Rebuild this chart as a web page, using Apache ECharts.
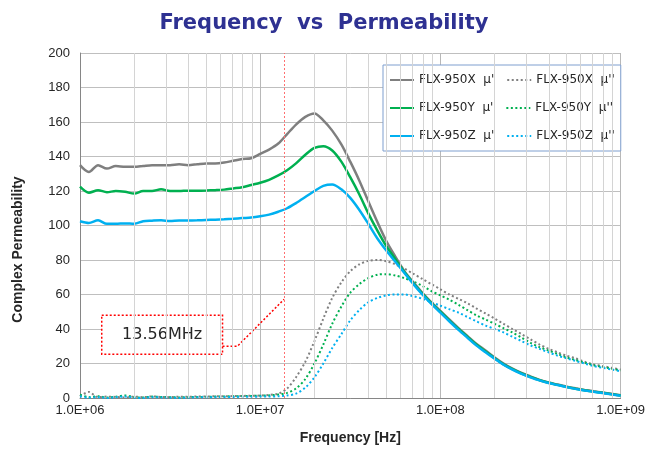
<!DOCTYPE html>
<html>
<head>
<meta charset="utf-8">
<title>Frequency vs Permeability</title>
<script src="https://cdn.jsdelivr.net/npm/echarts@6/dist/echarts.min.js"></script>
<style>
	html, body { margin: 0; padding: 0; background: #fff; }
	#main { width: 648px; height: 450px; }
</style>
</head>
<body>
<div id="main"></div>
<script>
// sampling frequencies [Hz], 20 points per decade
var freq = [
	1.00e6, 1.12e6, 1.26e6, 1.41e6, 1.58e6, 1.78e6, 2.00e6, 2.24e6, 2.51e6, 2.82e6,
	3.16e6, 3.55e6, 3.98e6, 4.47e6, 5.01e6, 5.62e6, 6.31e6, 7.08e6, 7.94e6, 8.91e6,
	1.00e7, 1.12e7, 1.26e7, 1.41e7, 1.58e7, 1.78e7, 2.00e7, 2.24e7, 2.51e7, 2.82e7,
	3.16e7, 3.55e7, 3.98e7, 4.47e7, 5.01e7, 5.62e7, 6.31e7, 7.08e7, 7.94e7, 8.91e7,
	1.00e8, 1.12e8, 1.26e8, 1.41e8, 1.58e8, 1.78e8, 2.00e8, 2.24e8, 2.51e8, 2.82e8,
	3.16e8, 3.55e8, 3.98e8, 4.47e8, 5.01e8, 5.62e8, 6.31e8, 7.08e8, 7.94e8, 8.91e8,
	1.00e9
];

// real part  mu'
var xReal = [
	135, 131, 135, 133, 134.5, 134, 134, 134.5, 135, 135,
	135, 135.5, 135, 135.5, 136, 136, 136.5, 137.5, 138.5, 139,
	141.5, 144, 147.5, 153, 158.5, 163, 165, 161, 155, 147,
	137, 126, 114, 102, 91, 82, 73.5, 67, 61, 55.5,
	50.5, 45.5, 40.5, 36, 31.5, 27.5, 23.5, 20, 17, 14.5,
	12.5, 10.5, 9, 7.8, 6.6, 5.6, 4.7, 3.9, 3.2, 2.4,
	1.6
];
var yReal = [
	122.5, 119, 120.5, 119.3, 120, 119.5, 118.5, 120, 120, 121,
	120, 120, 120.2, 120.2, 120.3, 120.5, 120.8, 121.5, 122.2, 123.5,
	124.8, 126.5, 129, 132, 136, 141, 145, 146, 143.5, 137,
	128, 118, 107, 97, 88, 80.5, 73, 66.5, 60.5, 55,
	50, 45, 40, 35.5, 31, 27, 23, 19.5, 16.7, 14.2,
	12.2, 10.3, 8.8, 7.6, 6.4, 5.4, 4.5, 3.7, 3, 2.2,
	1.4
];
var zReal = [
	102.5, 101.5, 103, 101, 101, 101.2, 101, 102.5, 102.8, 103,
	102.6, 102.9, 102.9, 103, 103.2, 103.4, 103.6, 103.9, 104.3, 104.6,
	105.3, 106.3, 108, 110, 113, 116.5, 120, 123, 123.8, 121,
	116, 109, 101, 92.5, 85.5, 79, 72.5, 66, 60, 54.5,
	49.5, 44.5, 39.5, 35, 30.5, 26.5, 22.8, 19.3, 16.5, 14,
	12, 10.2, 8.7, 7.5, 6.3, 5.3, 4.4, 3.6, 2.9, 2.1,
	1.3
];

// imaginary part  mu''
var xImag = [
	1, 3.5, 0.5, 0.8, 0.6, 0.3, 0.8, 0.5, 0.9, 0.6,
	0.5, 0.8, 0.7, 0.9, 0.8, 1, 1, 1.1, 1.2, 1.3,
	1.4, 1.8, 2.5, 5.5, 12, 21, 33, 46, 58, 67,
	73.5, 77.5, 79.5, 80, 79.3, 77.5, 75, 72, 69, 66,
	63, 60, 57.5, 55, 52, 49, 46, 43, 40, 37,
	34, 31, 28.5, 26.5, 24.5, 23, 21, 19.5, 18.5, 17.5,
	16.5
];
var yImag = [
	2, 0.5, 1, 0.3, 0.8, 1.5, 0.5, 0.3, 0.8, 0.6,
	0.5, 0.3, 0.5, 0.6, 0.7, 0.8, 0.9, 1, 1.1, 1.2,
	1.3, 1.5, 2, 3, 5.5, 11, 20, 31, 43, 53,
	61, 66, 69.5, 71.5, 71.8, 71, 69.5, 67.5, 65, 62,
	59.5, 57, 54, 51, 48, 45.5, 43, 40.5, 38, 35,
	32, 29.5, 27.5, 25.5, 23.5, 22, 20.5, 19, 18, 17,
	16
];
var zImag = [
	1, 0.2, 0.5, 0, 0.5, 0.8, 0.2, 0, 0.5, 0.3,
	0.2, 0, 0.3, 0.4, 0.5, 0.5, 0.6, 0.6, 0.7, 0.7,
	0.8, 0.8, 1, 1.5, 2.5, 6, 12, 20, 29, 37,
	45, 51, 55.5, 58, 59.5, 60, 60, 59, 57.5, 55.5,
	53.5, 51.5, 49.5, 47, 44.5, 42, 40, 38, 35.5, 33,
	30.5, 28.5, 26.5, 24.5, 23, 21.5, 20, 18.5, 17.5, 16.5,
	15.5
];

var seriesNames = ["FLX-950X  μ'", "FLX-950X  μ''", "FLX-950Y  μ'", "FLX-950Y  μ''", "FLX-950Z  μ'", "FLX-950Z  μ''"];
var xTickLabels = ['1.0E+06', '1.0E+07', '1.0E+08', '1.0E+09'];
var minorFreq = [
	2e6, 3e6, 4e6, 5e6, 6e6, 7e6, 8e6, 9e6,
	2e7, 3e7, 4e7, 5e7, 6e7, 7e7, 8e7, 9e7,
	2e8, 3e8, 4e8, 5e8, 6e8, 7e8, 8e8, 9e8
];
var markerFreq = 13.56e6;
var markerText = '13.56MHz';
// annotation box corners and leader line (freq, value)
var boxCorners = [[1.32e6, 48.0], [6.18e6, 25.4]];
var leaderPts = [[6.18e6, 30], [7.47e6, 30], [13.56e6, 57.2]];

function pairs(vals) {
	var d = [];
	for(var i = 0; i < freq.length; i++) {
		d.push([freq[i], vals[i]]);
	}
	return d;
}

function curve(name, vals, color, dotted) {
	return {
		name: name,
		type: 'line',
		data: pairs(vals),
		symbol: 'none',
		smooth: 0.3,
		z: dotted ? 3 : 4,
		lineStyle: {
			color: color,
			width: dotted ? 2 : 2.5,
			type: dotted ? [2, 2.5] : 'solid'
		},
		itemStyle: { color: color }
	};
}

function getOption() {
	var minorLines = [];
	for(var i = 0; i < minorFreq.length; i++) {
		minorLines.push({ xAxis: minorFreq[i] });
	}
	var option = {
		animation: false,
		backgroundColor: '#fff',
		title: {
			text: 'Frequency  vs  Permeability',
			left: 'center',
			top: 8,
			textStyle: {
				fontFamily: 'DejaVu Sans',
				fontWeight: 'bold',
				fontSize: 21,
				color: '#2e3192'
			}
		},
		legend: {
			data: seriesNames,
			left: 383,
			top: 65,
			width: 236,
			padding: [7, 6, 7, 6],
			itemWidth: 24,
			itemHeight: 20,
			itemGap: 12,
			backgroundColor: '#fff',
			borderColor: '#7f9fcf',
			borderWidth: 1,
			// hide the symbol, keep only the line sample
			itemStyle: {
				color: 'rgba(0,0,0,0)',
				borderColor: 'rgba(0,0,0,0)',
				borderWidth: 0
			},
			textStyle: {
				fontFamily: 'DejaVu Sans',
				fontSize: 12,
				color: '#262626',
				width: 76
			}
		},
		grid: {
			left: 80,
			right: 23,
			top: 53,
			bottom: 51
		},
		xAxis: {
			type: 'log',
			logBase: 10,
			min: 1e6,
			max: 1e9,
			name: 'Frequency [Hz]',
			nameLocation: 'middle',
			nameGap: 33,
			nameTextStyle: {
				fontFamily: 'Liberation Sans',
				fontWeight: 'bold',
				fontSize: 14,
				color: '#262626'
			},
			axisLine: { lineStyle: { color: '#868686' } },
			axisTick: { show: false },
			axisLabel: {
				margin: 6,
				fontFamily: 'Liberation Sans',
				fontSize: 13,
				color: '#262626',
				formatter: function(v) {
					return xTickLabels[Math.round(Math.log10(v)) - 6];
				}
			},
			splitLine: { show: true, lineStyle: { color: '#b8b8b8' } }
		},
		yAxis: {
			type: 'value',
			min: 0,
			max: 200,
			interval: 20,
			name: 'Complex Permeability',
			nameLocation: 'middle',
			nameGap: 55,
			nameTextStyle: {
				fontFamily: 'Liberation Sans',
				fontWeight: 'bold',
				fontSize: 14,
				color: '#262626',
				padding: [0, 48, 0, 0]
			},
			axisLine: { show: true, lineStyle: { color: '#868686' } },
			axisTick: { show: false },
			axisLabel: {
				margin: 10,
				fontFamily: 'Liberation Sans',
				fontSize: 13,
				color: '#262626'
			},
			splitLine: { lineStyle: { color: '#bfbfbf' } }
		},
		series: []
	};

	// minor log gridlines
	option.series.push({
		name: 'minorGrid',
		type: 'line',
		data: [],
		z: 1,
		silent: true,
		markLine: {
			silent: true,
			symbol: ['none', 'none'],
			label: { show: false },
			lineStyle: { color: '#d4d4d4', type: 'solid', width: 1 },
			data: minorLines
		}
	});

	// 13.56MHz marker, leader and box
	option.series.push({
		name: 'marker',
		type: 'line',
		data: leaderPts,
		symbol: 'none',
		z: 2,
		silent: true,
		lineStyle: { color: '#ff0000', width: 1.5, type: [2, 2] },
		markLine: {
			silent: true,
			symbol: ['none', 'none'],
			label: { show: false },
			lineStyle: { color: '#ff7070', type: [2, 2], width: 1 },
			data: [{ xAxis: markerFreq }]
		},
		markArea: {
			silent: true,
			itemStyle: {
				color: '#fff',
				borderColor: '#ff0000',
				borderWidth: 1.5,
				borderType: [2, 2]
			},
			label: {
				show: true,
				position: 'inside',
				formatter: markerText,
				fontFamily: 'DejaVu Sans',
				fontSize: 16,
				color: '#262626'
			},
			data: [[{ coord: boxCorners[0] }, { coord: boxCorners[1] }]]
		}
	});

	option.series.push(curve(seriesNames[1], xImag, '#808080', true));
	option.series.push(curve(seriesNames[3], yImag, '#00b050', true));
	option.series.push(curve(seriesNames[5], zImag, '#00b0f0', true));
	option.series.push(curve(seriesNames[0], xReal, '#7f7f7f', false));
	option.series.push(curve(seriesNames[2], yReal, '#00b050', false));
	option.series.push(curve(seriesNames[4], zReal, '#00b0f0', false));
	return option;
}

echarts.init(document.getElementById('main')).setOption(getOption());
</script>
</body>
</html>
